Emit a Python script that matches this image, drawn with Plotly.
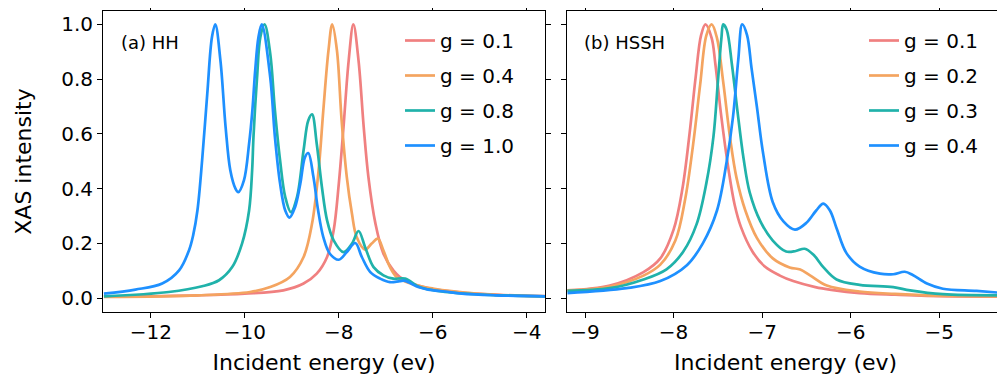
import plotly.graph_objects as go

# ---------------- data ----------------
# Panel (a) HH
hh_labels = ["g = 0.1", "g = 0.4", "g = 0.8", "g = 1.0"]

hh_x_g01 = [-13.0, -11.0, -10.0, -9.18, -8.75, -8.47, -8.25, -8.11, -8.00, -7.90, -7.79, -7.69,
            -7.58, -7.47, -7.37, -7.22, -7.05, -6.84, -6.70, -6.40, -6.0, -5.5, -5.0, -4.5, -3.6]
hh_y_g01 = [0.005, 0.010, 0.016, 0.028, 0.053, 0.089, 0.15, 0.247, 0.418, 0.625, 0.868, 1.0,
            0.868, 0.625, 0.442, 0.272, 0.162, 0.101, 0.077, 0.050, 0.033, 0.022, 0.015, 0.011, 0.007]

hh_x_g04 = [-13.0, -11.0, -9.89, -9.46, -9.04, -8.75, -8.57, -8.43, -8.33, -8.22, -8.14, -8.04,
            -7.94, -7.83, -7.72, -7.62, -7.44, -7.30, -7.17, -7.05, -6.91, -6.77, -6.55, -6.3,
            -6.0, -5.6, -5.0, -4.5, -3.6]
hh_y_g04 = [0.004, 0.010, 0.022, 0.040, 0.077, 0.15, 0.272, 0.467, 0.686, 0.905, 1.0, 0.905,
            0.649, 0.442, 0.308, 0.223, 0.177, 0.199, 0.217, 0.174, 0.113, 0.077, 0.058, 0.045,
            0.035, 0.025, 0.015, 0.010, 0.006]

hh_x_g08 = [-13.0, -11.62, -10.91, -10.55, -10.27, -10.06, -9.91, -9.845, -9.817, -9.74, -9.67,
            -9.58, -9.46, -9.36, -9.25, -9.14, -9.02, -8.89, -8.75, -8.65, -8.57, -8.47, -8.36,
            -8.25, -8.11, -7.90, -7.72, -7.58, -7.44, -7.26, -7.05, -6.84, -6.59, -6.31, -6.10,
            -5.74, -5.0, -4.3, -3.6]
hh_y_g08 = [0.006, 0.022, 0.043, 0.065, 0.113, 0.199, 0.32, 0.467, 0.588, 0.807, 0.954,
            1.0, 0.893, 0.686, 0.503, 0.369, 0.314, 0.369, 0.54, 0.649, 0.671, 0.564, 0.406,
            0.284, 0.211, 0.168, 0.199, 0.245, 0.186, 0.113, 0.083, 0.071, 0.071, 0.042, 0.032,
            0.022, 0.013, 0.009, 0.006]

hh_x_g10 = [-13.0, -12.33, -11.76, -11.40, -11.19, -11.10, -11.01, -10.91, -10.80, -10.70, -10.63,
            -10.52, -10.41, -10.31, -10.20, -10.14, -10.02, -9.91, -9.84, -9.78, -9.71, -9.64,
            -9.46, -9.36, -9.25, -9.14, -9.05, -8.93, -8.82, -8.72, -8.65, -8.54, -8.44, -8.33,
            -8.19, -8.00, -7.83, -7.65, -7.51, -7.33, -7.12, -6.91, -6.70, -6.59, -6.31, -6.10,
            -5.74, -5.38, -4.67, -3.6]
hh_y_g10 = [0.016, 0.031, 0.053, 0.101, 0.174, 0.23, 0.32, 0.503, 0.747, 0.954, 1.0,
            0.868, 0.625, 0.467, 0.40, 0.387, 0.43, 0.564, 0.686, 0.832, 0.954, 1.0,
            0.807, 0.588, 0.418, 0.32, 0.294, 0.333, 0.418, 0.515, 0.53, 0.442, 0.32, 0.223,
            0.162, 0.14, 0.168, 0.201, 0.15, 0.095, 0.071, 0.058, 0.062, 0.063, 0.040, 0.031,
            0.024, 0.016, 0.010, 0.006]

# Panel (b) HSSH
hs_labels = ["g = 0.1", "g = 0.2", "g = 0.3", "g = 0.4"]

hs_x_g01 = [-9.20, -8.72, -8.34, -8.15, -8.00, -7.90, -7.82, -7.75, -7.69, -7.64, -7.57, -7.53,
            -7.46, -7.38, -7.31, -7.24, -7.11, -6.97, -6.80, -6.65, -6.40, -6.22, -5.90, -5.50,
            -5.14, -4.26]
hs_y_g01 = [0.028, 0.046, 0.095, 0.145, 0.25, 0.40, 0.60, 0.81, 0.96, 1.0, 0.95, 0.86,
            0.66, 0.47, 0.34, 0.26, 0.17, 0.115, 0.082, 0.062, 0.040, 0.030, 0.018, 0.012,
            0.008, 0.005]

hs_x_g02 = [-9.20, -8.72, -8.34, -8.15, -7.98, -7.87, -7.78, -7.70, -7.63, -7.57, -7.51, -7.44,
            -7.36, -7.29, -7.19, -7.06, -6.88, -6.69, -6.57, -6.46, -6.27, -5.90, -5.50, -5.14,
            -4.26]
hs_y_g02 = [0.028, 0.042, 0.082, 0.122, 0.21, 0.36, 0.56, 0.78, 0.96, 1.0, 0.95, 0.79,
            0.58, 0.44, 0.32, 0.22, 0.145, 0.112, 0.104, 0.083, 0.046, 0.024, 0.015, 0.010,
            0.006]

hs_x_g03 = [-9.20, -8.72, -8.34, -8.08, -7.89, -7.74, -7.63, -7.55, -7.50, -7.46, -7.44, -7.40,
            -7.34, -7.28, -7.21, -7.14, -7.02, -6.88, -6.73, -6.62, -6.52, -6.42, -6.31, -6.16,
            -5.90, -5.52, -5.33, -4.96, -4.26]
hs_y_g03 = [0.026, 0.036, 0.068, 0.105, 0.17, 0.27, 0.42, 0.59, 0.79, 0.95, 1.0, 0.98,
            0.85, 0.686, 0.51, 0.385, 0.28, 0.21, 0.17, 0.172, 0.180, 0.158, 0.113, 0.068,
            0.048, 0.040, 0.028, 0.014, 0.010]

hs_x_g04 = [-9.20, -8.53, -8.15, -7.85, -7.67, -7.51, -7.40, -7.33, -7.27, -7.225, -7.17, -7.12,
            -7.06, -6.99, -6.88, -6.76, -6.63, -6.50, -6.39, -6.31, -6.235, -6.16, -6.05, -5.90,
            -5.67, -5.52, -5.39, -5.30, -5.14, -4.96, -4.58, -4.26]
hs_y_g04 = [0.018, 0.036, 0.062, 0.12, 0.20, 0.32, 0.50, 0.66, 0.87, 1.0, 0.96, 0.84,
            0.70, 0.53, 0.35, 0.28, 0.25, 0.275, 0.32, 0.345, 0.32, 0.255, 0.165, 0.115,
            0.089, 0.087, 0.096, 0.084, 0.053, 0.034, 0.026, 0.018]

colors = ["#F08080", "#F4A460", "#20B2AA", "#1E90FF"]

x_ticks_a = [-12, -10, -8, -6, -4]
x_ticks_b = [-9, -8, -7, -6, -5]
y_ticks = [0.0, 0.2, 0.4, 0.6, 0.8, 1.0]

FONT = "DejaVu Sans"

fig = go.Figure()

hh_series = [(hh_x_g01, hh_y_g01), (hh_x_g04, hh_y_g04), (hh_x_g08, hh_y_g08), (hh_x_g10, hh_y_g10)]
hs_series = [(hs_x_g01, hs_y_g01), (hs_x_g02, hs_y_g02), (hs_x_g03, hs_y_g03), (hs_x_g04, hs_y_g04)]

for i, ((xs, ys), lab) in enumerate(zip(hh_series, hh_labels)):
    fig.add_trace(go.Scatter(x=xs, y=ys, mode="lines", name=lab,
                             line=dict(color=colors[i], width=2.7, shape="spline", smoothing=1.0),
                             xaxis="x", yaxis="y", legend="legend", legendgroup=f"a{i}"))

for i, ((xs, ys), lab) in enumerate(zip(hs_series, hs_labels)):
    fig.add_trace(go.Scatter(x=xs, y=ys, mode="lines", name=lab,
                             line=dict(color=colors[i], width=2.7, shape="spline", smoothing=1.0),
                             xaxis="x2", yaxis="y2", legend="legend2", legendgroup=f"b{i}"))

axis_common = dict(showline=True, linecolor="black", linewidth=1, mirror="ticks",
                   ticks="outside", ticklen=5, tickwidth=1, tickcolor="black",
                   showgrid=False, zeroline=False, automargin=False,
                   tickfont=dict(family=FONT, size=20, color="black"))

# the page body has an 8px margin, so the figure is 8px smaller than the window
OFF = 8
W, H = 1005 - OFF, 375 - OFF
ML, MR, MT, MB = 103 - OFF, 1, 11 - OFF, 63
PW = W - ML - MR
PH = H - MT - MB


def px_to_paper_x(px):
    return (px - OFF - ML) / PW


def py_to_paper_y(py):
    return (H - MB - (py - OFF)) / PH


legend_common = dict(font=dict(family=FONT, size=20, color="black"), bgcolor="rgba(0,0,0,0)",
                     borderwidth=0, itemwidth=30, tracegroupgap=6,
                     xanchor="left", yanchor="top", itemclick=False, itemdoubleclick=False)

fig.update_layout(
    width=W, height=H,
    margin=dict(l=ML, r=MR, t=MT, b=MB, autoexpand=False),
    paper_bgcolor="white", plot_bgcolor="white",
    font=dict(family=FONT, size=20, color="black"),
    xaxis=dict(domain=[0, 0.4906], range=[-13.02, -3.61], tickvals=x_ticks_a, anchor="y",
               ticklabelstandoff=-3,
               title=dict(text="Incident energy (ev)", font=dict(family=FONT, size=22), standoff=11),
               **axis_common),
    yaxis=dict(domain=[0, 1], range=[-0.051, 1.049], tickvals=y_ticks, tickformat=".1f", anchor="x",
               title=dict(text="XAS intensity", font=dict(family=FONT, size=22), standoff=23),
               **axis_common),
    xaxis2=dict(domain=[0.5153, 1], range=[-9.2, -4.27], tickvals=x_ticks_b, anchor="y2",
                ticklabelstandoff=-3,
                title=dict(text="Incident energy (ev)", font=dict(family=FONT, size=22), standoff=11),
                **axis_common),
    yaxis2=dict(domain=[0, 1], range=[-0.051, 1.049], tickvals=y_ticks, anchor="x2",
                showticklabels=False, **axis_common),
    legend=dict(x=px_to_paper_x(400), y=py_to_paper_y(21), **legend_common),
    legend2=dict(x=px_to_paper_x(864), y=py_to_paper_y(21), **legend_common),
    annotations=[
        dict(text="(a) HH", x=0.037, y=0.896, xref="x domain", yref="y domain",
             xanchor="left", yanchor="middle", showarrow=False,
             font=dict(family=FONT, size=18, color="black")),
        dict(text="(b) HSSH", x=0.034, y=0.896, xref="x2 domain", yref="y2 domain",
             xanchor="left", yanchor="middle", showarrow=False,
             font=dict(family=FONT, size=18, color="black")),
    ],
)

fig.write_html("out.html")
